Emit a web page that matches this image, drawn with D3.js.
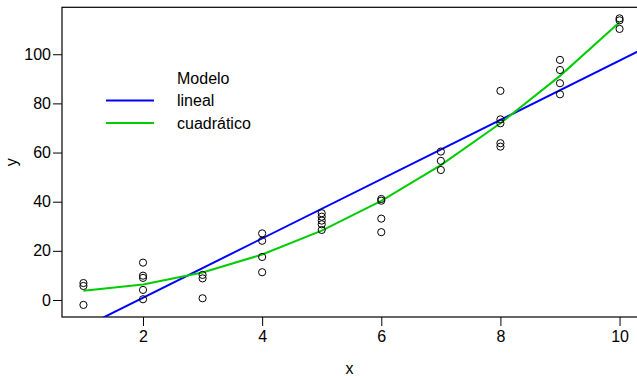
<!DOCTYPE html>
<html>
<head>
<meta charset="utf-8">
<script src="https://d3js.org/d3.v7.min.js"></script>
<style>
  body { margin: 0; background: #fff; }
  svg { display: block; font-family: "Liberation Sans", Arial, sans-serif; }
  text { fill: #000; }
</style>
</head>
<body>
<div id="chart"></div>
<script>
  // observed points (x, y)
  var pointX = [1, 1, 1, 2, 2, 2, 2, 2, 3, 3, 3, 4, 4, 4, 4, 5, 5, 5, 5, 5,
                6, 6, 6, 6, 7, 7, 7, 8, 8, 8, 8, 8, 9, 9, 9, 9, 10, 10, 10];
  var pointY = [6.9, 5.7, -2.0, 15.2, 9.9, 9.0, 4.1, 0.3, 10.2, 8.8, 0.7,
                27.1, 24.1, 17.5, 11.3, 35.3, 33.9, 32.3, 30.8, 28.5,
                41.1, 40.4, 33.1, 27.6, 60.4, 56.6, 52.9,
                85.1, 73.5, 71.9, 63.8, 62.4, 97.7, 93.6, 88.2, 83.7,
                114.6, 113.8, 110.3];

  // fitted models
  var linearX = [0.64, 10.36];
  var linearY = [-15.5, 101.8];
  var quadX = [1, 2, 3, 4, 5, 6, 7, 8, 9, 10];
  var quadY = [3.8, 6.3, 11.2, 18.5, 28.2, 40.3, 54.9, 71.9, 91.2, 113.0];

  var xTicks = [2, 4, 6, 8, 10];
  var yTicks = [0, 20, 40, 60, 80, 100];
  var legendTitle = "Modelo";
  var legendLabels = ["lineal", "cuadrático"];
  var legendColors = ["#0000FF", "#00CD00"];

  var width = 637, height = 376,
      plot = {left: 62, right: 641, top: 7.3, bottom: 317};

  var x = d3.scaleLinear().domain([0.64, 10.36]).range([plot.left, plot.right]),
      y = d3.scaleLinear().domain([-6.92, 119.1]).range([plot.bottom, plot.top]);

  var svg = d3.select("#chart").append("svg")
    .attr("width", width).attr("height", height);

  svg.append("defs").append("clipPath").attr("id", "clip")
    .append("rect")
    .attr("x", plot.left).attr("y", plot.top)
    .attr("width", plot.right - plot.left).attr("height", plot.bottom - plot.top);

  var fontSize = 16;

  // axes
  var xAxis = svg.append("g")
    .attr("transform", "translate(0," + plot.bottom + ")")
    .call(d3.axisBottom(x).tickValues(xTicks).tickSize(9).tickPadding(5).tickFormat(d3.format("d")));
  var yAxis = svg.append("g")
    .attr("transform", "translate(" + plot.left + ",0)")
    .call(d3.axisLeft(y).tickValues(yTicks).tickSize(9).tickPadding(2).tickFormat(d3.format("d")));

  [xAxis, yAxis].forEach(function (g) {
    g.select(".domain").remove();
    g.selectAll("line").attr("stroke", "#000");
    g.selectAll("text")
      .attr("font-family", "Liberation Sans, Arial, sans-serif")
      .attr("font-size", fontSize)
      .attr("fill", "#000");
  });

  // box
  svg.append("rect")
    .attr("x", plot.left).attr("y", plot.top)
    .attr("width", plot.right - plot.left).attr("height", plot.bottom - plot.top)
    .attr("fill", "none").attr("stroke", "#000").attr("stroke-width", 1.2);

  var line = d3.line()
    .x(function (d) { return x(d[0]); })
    .y(function (d) { return y(d[1]); });

  var lines = svg.append("g").attr("clip-path", "url(#clip)");

  lines.append("path")
    .datum(d3.zip(linearX, linearY))
    .attr("d", line)
    .attr("fill", "none")
    .attr("stroke", legendColors[0])
    .attr("stroke-width", 2);

  lines.append("path")
    .datum(d3.zip(quadX, quadY))
    .attr("d", line)
    .attr("fill", "none")
    .attr("stroke", legendColors[1])
    .attr("stroke-width", 2);

  svg.append("g").selectAll("circle")
    .data(d3.zip(pointX, pointY))
    .enter().append("circle")
    .attr("cx", function (d) { return x(d[0]); })
    .attr("cy", function (d) { return y(d[1]); })
    .attr("r", 3.6)
    .attr("fill", "none")
    .attr("stroke", "#000")
    .attr("stroke-width", 1);

  // axis titles
  svg.append("text")
    .attr("x", (plot.left + plot.right) / 2 - 2)
    .attr("y", 373.5)
    .attr("text-anchor", "middle")
    .attr("font-size", fontSize)
    .text("x");

  svg.append("text")
    .attr("transform", "translate(17," + ((plot.top + plot.bottom) / 2) + ") rotate(-90)")
    .attr("text-anchor", "middle")
    .attr("font-size", fontSize)
    .text("y");

  // legend
  var legend = svg.append("g");
  legend.append("text")
    .attr("x", 177).attr("y", 78.3).attr("dy", "0.35em")
    .attr("font-size", fontSize)
    .text(legendTitle);

  legendLabels.forEach(function (lab, i) {
    var ly = 100.5 + i * 22.6;
    legend.append("line")
      .attr("x1", 106).attr("x2", 154)
      .attr("y1", ly).attr("y2", ly)
      .attr("stroke", legendColors[i])
      .attr("stroke-width", 2);
    legend.append("text")
      .attr("x", 177).attr("y", ly).attr("dy", "0.35em")
      .attr("font-size", fontSize)
      .text(lab);
  });
</script>
</body>
</html>
